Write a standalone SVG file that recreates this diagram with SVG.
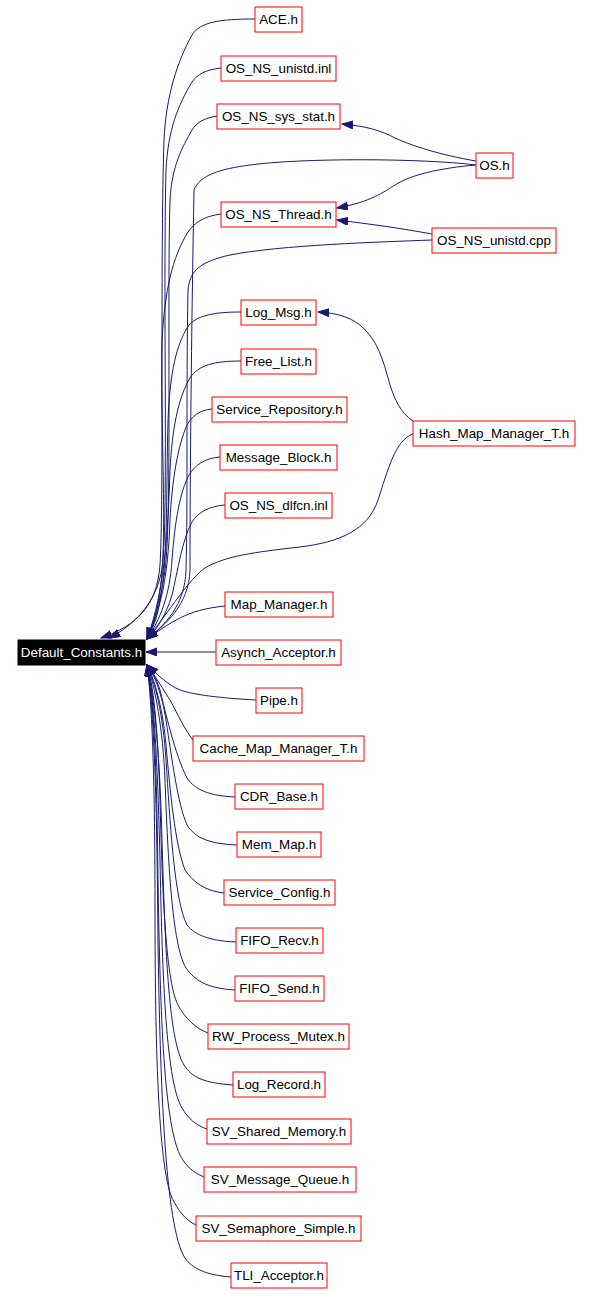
<svg xmlns="http://www.w3.org/2000/svg" width="592" height="1294" viewBox="0 0 592 1294">
<style>
.n rect{fill:#ffffff;stroke:#ff0000;stroke-width:1}
.n text{font-family:"Liberation Sans",Arial,sans-serif;font-size:13.4px;fill:#000000;text-anchor:middle}
.root rect{fill:#000000;stroke:#000000}
.root text{font-family:"Liberation Sans",Arial,sans-serif;font-size:13.4px;fill:#ffffff;text-anchor:middle}
.e path{fill:none;stroke:#191970;stroke-width:1;marker-end:url(#ah)}
</style>
<defs>
<marker id="ah" markerUnits="userSpaceOnUse" markerWidth="12" markerHeight="10" refX="11" refY="4" orient="auto">
<path d="M0,0 L11,4 L0,8 z" fill="#191970" stroke="#191970" stroke-width="1"/>
</marker>
</defs>
<rect width="592" height="1294" fill="#ffffff"/>
<g id="edges" class="e">
<path d="M255,19 C220,19 200,22 192,35 C178,60 166,95 164,140 C160,260 164,500 160,565 C157,605 138,625 101,638"/>
<path d="M221,68 C205,70 198,74 192,82 C178,105 168,130 166,170 C163,300 168,500 163,560 C160,600 135,625 109,638"/>
<path d="M217,116 C205,118 197,122 192,130 C182,148 172,165 170,200 C167,300 172,520 165,570 C160,605 152,625 147,639"/>
<path d="M476,165 C420,158 300,158 250,165 C220,169 200,175 194,190 C192,300 190,450 190,570 C189,605 165,625 147,639"/>
<path d="M221,214 C205,216 195,222 188,232 C172,258 165,290 162,340 C160,420 168,540 160,590 C157,615 152,628 147,639"/>
<path d="M432,240 C380,242 280,245 230,255 C200,262 190,270 188,290 C186,400 188,500 186,570 C185,605 165,625 147,639"/>
<path d="M241,312 C215,312 195,315 187,328 C177,345 170,370 168,420 C166,500 168,560 160,600 C157,620 152,630 147,639"/>
<path d="M241,361 C215,361 198,365 190,378 C178,398 172,430 170,470 C168,530 165,590 147,639"/>
<path d="M212,409 C200,410 192,416 187,425 C178,445 172,480 170,520 C168,580 160,610 147,639"/>
<path d="M220,457 C205,458 195,465 189,475 C180,492 175,520 172,560 C170,595 160,620 147,639"/>
<path d="M225,505 C210,506 198,512 192,522 C182,540 178,570 172,595 C166,615 158,628 147,639"/>
<path d="M413,434 C395,440 388,470 378,500 C368,530 340,542 300,547 C255,552 225,556 205,568 C190,578 170,610 147,639"/>
<path d="M413,421 C400,412 395,400 390,385 C383,360 378,340 360,325 C348,316 335,313 318,312"/>
<path d="M476,165 C440,168 410,175 395,185 C380,195 365,203 337,208"/>
<path d="M476,161 C440,155 410,145 395,138 C380,130 365,126 342,124"/>
<path d="M432,234 C400,228 370,224 337,220"/>
<path d="M225,606 C205,608 192,612 180,618 C168,624 158,631 147,639"/>
<path d="M216,652 L146,652"/>
<path d="M256,700 C220,698 195,695 180,690 C168,685 158,675 147,665"/>
<path d="M193,740 C185,730 178,715 170,700 C162,688 155,675 147,665"/>
<path d="M235,797 C210,796 195,790 187,778 C175,755 165,710 160,690 C156,678 152,670 147,665"/>
<path d="M237,845 C210,844 195,838 187,825 C178,805 172,760 166,720 C162,695 155,675 147,665"/>
<path d="M224,893 C205,891 193,882 185,870 C175,845 170,790 166,745 C163,710 155,680 147,665"/>
<path d="M236,942 C210,941 195,935 187,925 C174,900 170,820 166,760 C163,715 155,680 147,665"/>
<path d="M235,990 C205,988 195,980 186,968 C172,945 168,860 165,780 C163,730 155,685 147,665"/>
<path d="M208,1033 C195,1028 185,1018 178,1005 C165,980 162,880 160,800 C158,740 155,690 147,665"/>
<path d="M233,1085 C205,1083 192,1078 184,1065 C168,1040 165,940 162,840 C160,760 155,700 147,665"/>
<path d="M207,1129 C195,1125 188,1118 182,1108 C165,1080 162,960 160,860 C158,780 155,700 147,665"/>
<path d="M204,1177 C192,1172 185,1165 180,1155 C163,1120 160,1000 158,880 C157,790 155,705 147,665"/>
<path d="M196,1225 C185,1220 178,1210 172,1198 C158,1165 155,1040 155,910 C155,800 153,710 147,665"/>
<path d="M231,1277 C205,1275 192,1268 185,1258 C165,1228 160,1080 158,940 C157,820 155,715 147,665"/>
</g>
<g id="Default_Constants" class="root"><rect x="18" y="640" width="127" height="25"/><text x="81.5" y="657">Default_Constants.h</text></g>
<g id="ACE" class="n"><rect x="255" y="7" width="47" height="25"/><text x="278.5" y="24">ACE.h</text></g>
<g id="OS_NS_unistd_inl" class="n"><rect x="221" y="56" width="115" height="25"/><text x="278.5" y="73">OS_NS_unistd.inl</text></g>
<g id="OS_NS_sys_stat" class="n"><rect x="217" y="104" width="123" height="25"/><text x="278.5" y="121">OS_NS_sys_stat.h</text></g>
<g id="OS" class="n"><rect x="476" y="153" width="37" height="25"/><text x="494.5" y="170">OS.h</text></g>
<g id="OS_NS_Thread" class="n"><rect x="221" y="202" width="115" height="25"/><text x="278.5" y="219">OS_NS_Thread.h</text></g>
<g id="OS_NS_unistd_cpp" class="n"><rect x="432" y="228" width="124" height="25"/><text x="494" y="245">OS_NS_unistd.cpp</text></g>
<g id="Log_Msg" class="n"><rect x="241" y="300" width="75" height="25"/><text x="278.5" y="317">Log_Msg.h</text></g>
<g id="Free_List" class="n"><rect x="241" y="349" width="75" height="25"/><text x="278.5" y="366">Free_List.h</text></g>
<g id="Service_Repository" class="n"><rect x="212" y="397" width="135" height="25"/><text x="279.5" y="414">Service_Repository.h</text></g>
<g id="Message_Block" class="n"><rect x="220" y="445" width="117" height="25"/><text x="278.5" y="462">Message_Block.h</text></g>
<g id="OS_NS_dlfcn" class="n"><rect x="225" y="493" width="107" height="25"/><text x="278.5" y="510">OS_NS_dlfcn.inl</text></g>
<g id="Hash_Map_Manager_T" class="n"><rect x="413" y="421" width="162" height="25"/><text x="494" y="438">Hash_Map_Manager_T.h</text></g>
<g id="Map_Manager" class="n"><rect x="225" y="592" width="108" height="25"/><text x="279" y="609">Map_Manager.h</text></g>
<g id="Asynch_Acceptor" class="n"><rect x="216" y="640" width="125" height="25"/><text x="278.5" y="657">Asynch_Acceptor.h</text></g>
<g id="Pipe" class="n"><rect x="256" y="688" width="46" height="25"/><text x="279" y="705">Pipe.h</text></g>
<g id="Cache_Map_Manager_T" class="n"><rect x="193" y="736" width="171" height="25"/><text x="278.5" y="753">Cache_Map_Manager_T.h</text></g>
<g id="CDR_Base" class="n"><rect x="235" y="784" width="88" height="25"/><text x="279" y="801">CDR_Base.h</text></g>
<g id="Mem_Map" class="n"><rect x="237" y="832" width="84" height="25"/><text x="279" y="849">Mem_Map.h</text></g>
<g id="Service_Config" class="n"><rect x="224" y="880" width="111" height="25"/><text x="279.5" y="897">Service_Config.h</text></g>
<g id="FIFO_Recv" class="n"><rect x="236" y="928" width="87" height="25"/><text x="279.5" y="945">FIFO_Recv.h</text></g>
<g id="FIFO_Send" class="n"><rect x="235" y="976" width="89" height="25"/><text x="279.5" y="993">FIFO_Send.h</text></g>
<g id="RW_Process_Mutex" class="n"><rect x="208" y="1024" width="141" height="25"/><text x="278.5" y="1041">RW_Process_Mutex.h</text></g>
<g id="Log_Record" class="n"><rect x="233" y="1072" width="92" height="25"/><text x="279" y="1089">Log_Record.h</text></g>
<g id="SV_Shared_Memory" class="n"><rect x="207" y="1119" width="144" height="25"/><text x="279" y="1136">SV_Shared_Memory.h</text></g>
<g id="SV_Message_Queue" class="n"><rect x="204" y="1167" width="152" height="25"/><text x="280" y="1184">SV_Message_Queue.h</text></g>
<g id="SV_Semaphore_Simple" class="n"><rect x="196" y="1216" width="165" height="25"/><text x="278.5" y="1233">SV_Semaphore_Simple.h</text></g>
<g id="TLI_Acceptor" class="n"><rect x="231" y="1263" width="96" height="25"/><text x="279" y="1280">TLI_Acceptor.h</text></g>
</svg>
